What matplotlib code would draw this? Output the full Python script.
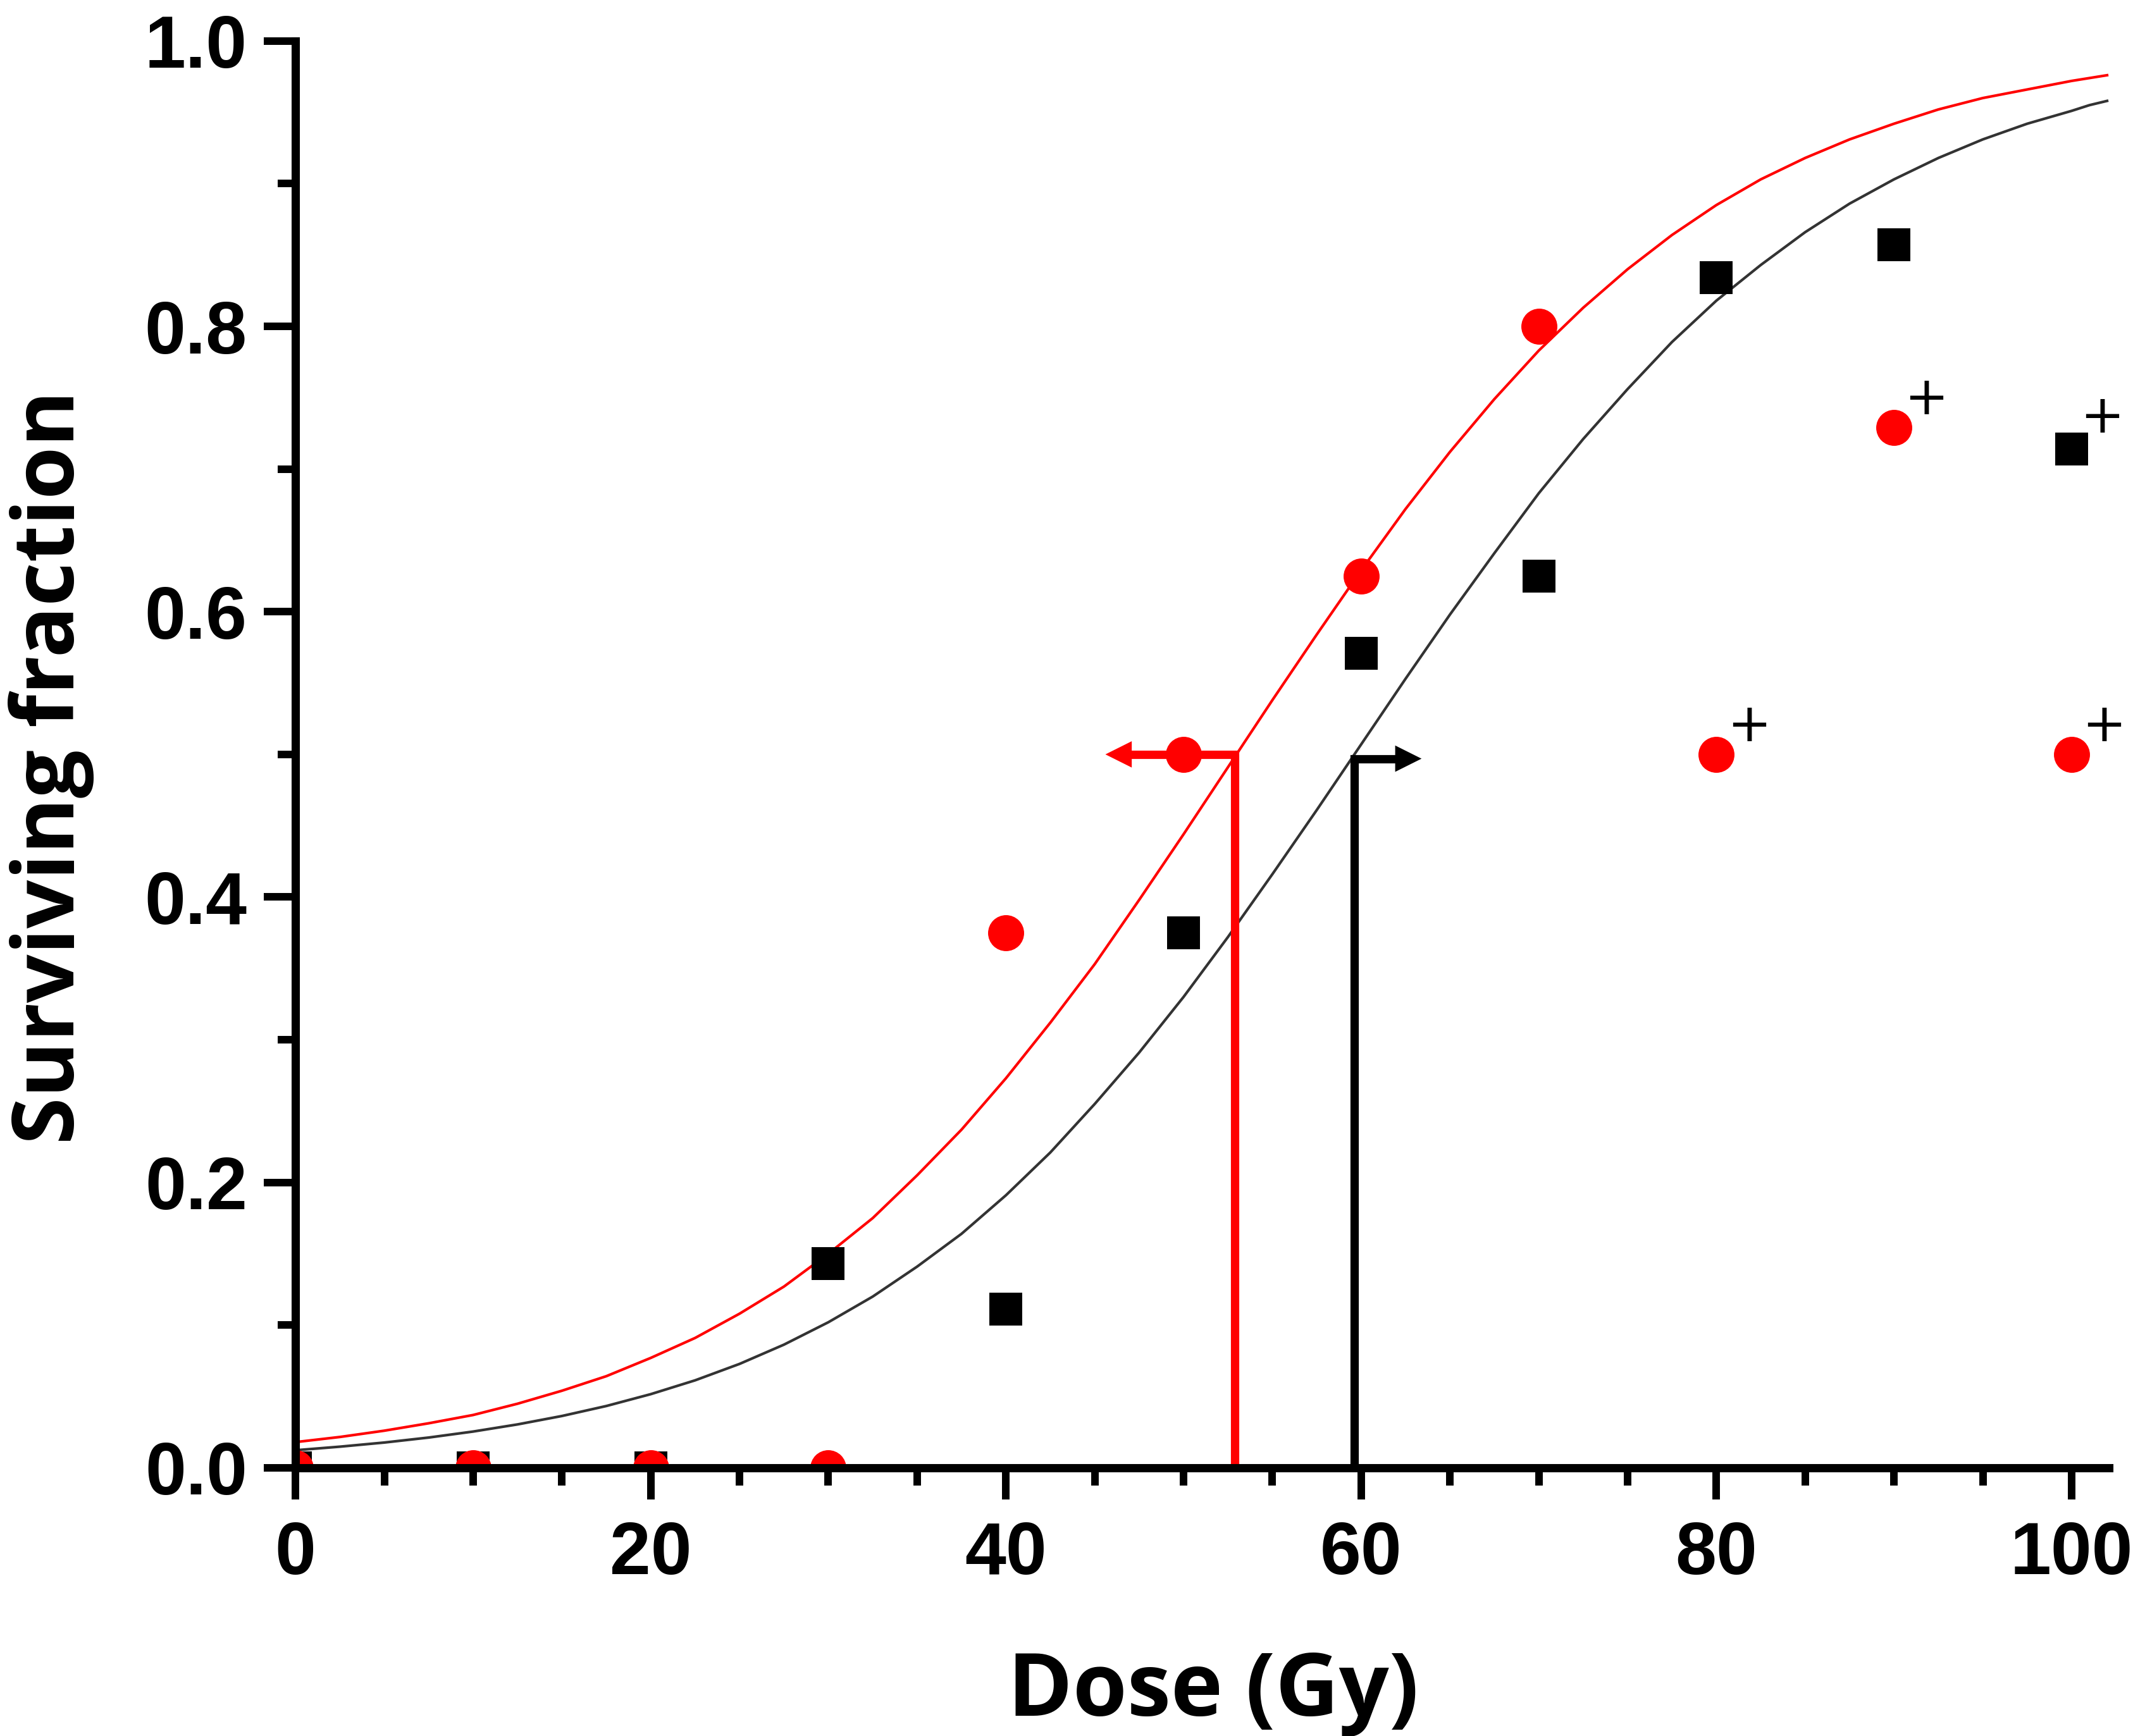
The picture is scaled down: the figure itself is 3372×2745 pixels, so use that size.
import numpy as np
import matplotlib
matplotlib.use("Agg")
import matplotlib.pyplot as plt
from matplotlib.ticker import MultipleLocator

# measured surviving fractions
dose = [0, 10, 20, 30, 40, 50, 60, 70, 80, 90, 100]
black_sf = [0, 0, 0, 0.143, 0.111, 0.375, 0.571, 0.625, 0.834, 0.857, 0.714]
red_sf = [0, 0, 0, 0, 0.375, 0.5, 0.625, 0.800, 0.5, 0.729, 0.5]

# points flagged with "+"
red_plus = [80, 90, 100]
black_plus = [100]

# fitted curves
fit_dose = [0, 2.5, 5, 7.5, 10, 12.5, 15, 17.5, 20, 22.5, 25, 27.5, 30, 32.5, 35, 37.5,
            40, 42.5, 45, 47.5, 50, 52.5, 55, 57.5, 60, 62.5, 65, 67.5, 70, 72.5, 75, 77.5,
            80, 82.5, 85, 87.5, 90, 92.5, 95, 97.5, 100, 101, 102]
red_fit = [0.018, 0.0216, 0.026, 0.0312, 0.037, 0.0449, 0.054, 0.0642, 0.077, 0.091, 0.108,
           0.127, 0.150, 0.175, 0.205, 0.237, 0.273, 0.312, 0.353, 0.398, 0.444, 0.491,
           0.538, 0.584, 0.629, 0.672, 0.712, 0.749, 0.783, 0.813, 0.840, 0.864, 0.885,
           0.903, 0.918, 0.931, 0.942, 0.952, 0.960, 0.966, 0.972, 0.974, 0.976]
black_fit = [0.0123, 0.0148, 0.0177, 0.0212, 0.0254, 0.0304, 0.0363, 0.0433, 0.0516, 0.0613,
             0.0728, 0.0863, 0.102, 0.120, 0.141, 0.164, 0.191, 0.221, 0.255, 0.291, 0.330,
             0.372, 0.416, 0.461, 0.507, 0.553, 0.598, 0.641, 0.683, 0.721, 0.756, 0.789,
             0.818, 0.843, 0.866, 0.886, 0.903, 0.918, 0.931, 0.942, 0.951, 0.955, 0.958]

# D50 markers
red_d50, red_tip = 52.9, 45.6
black_d50, black_tip = 59.6, 63.4
half = 0.5

fig = plt.figure(figsize=(33.73, 27.45), dpi=100)
ax = fig.add_axes([0.1385, 0.1545, 0.8499, 0.8219])

ax.plot(fit_dose, red_fit, color="#ff0000", lw=3.0, zorder=2)
ax.plot(fit_dose, black_fit, color="#333333", lw=3.0, zorder=2)

head = 1.1
ax.plot([red_d50, red_d50, red_tip + head], [0, half, half], color="#ff0000", lw=9.5,
        solid_joinstyle="miter", solid_capstyle="butt", zorder=3)
ax.plot([black_d50, black_d50, black_tip - head], [0, half - 0.003, half - 0.003], color="black", lw=9.5,
        solid_joinstyle="miter", solid_capstyle="butt", zorder=3)
ax.annotate("", xy=(red_tip, half), xytext=(red_d50, half),
            arrowprops=dict(arrowstyle="-|>", color="#ff0000", lw=0, mutation_scale=75,
                            shrinkA=0, shrinkB=0), zorder=3)
ax.annotate("", xy=(black_tip, half - 0.003), xytext=(black_d50, half - 0.003),
            arrowprops=dict(arrowstyle="-|>", color="black", lw=0, mutation_scale=75,
                            shrinkA=0, shrinkB=0), zorder=3)

ax.plot(dose, black_sf, ls="none", marker="s", ms=37, mew=0, color="black", zorder=4)
ax.plot(dose, red_sf, ls="none", marker="o", ms=41, mew=0, color="#ff0000", zorder=5)

for d, s in zip(dose, red_sf):
    if d in red_plus:
        ax.annotate("+", xy=(d, s), xytext=(37, 38), textcoords="offset points",
                    ha="center", va="center_baseline", fontsize=60, family="DejaVu Sans")
for d, s in zip(dose, black_sf):
    if d in black_plus:
        ax.annotate("+", xy=(d, s), xytext=(35, 42), textcoords="offset points",
                    ha="center", va="center_baseline", fontsize=60, family="DejaVu Sans")

ax.set_xlim(0, 102.1)
ax.set_ylim(0, 1.0)
ax.xaxis.set_major_locator(MultipleLocator(20))
ax.xaxis.set_minor_locator(MultipleLocator(5))
ax.yaxis.set_major_locator(MultipleLocator(0.2))
ax.yaxis.set_minor_locator(MultipleLocator(0.1))
ax.yaxis.set_major_formatter(matplotlib.ticker.FormatStrFormatter("%.1f"))

for side in ("top", "right"):
    ax.spines[side].set_visible(False)
for side in ("left", "bottom"):
    ax.spines[side].set_linewidth(9.4)
    ax.spines[side].set_zorder(6)

ax.tick_params(which="major", length=36, width=8.6)
ax.tick_params(which="minor", length=20, width=8.6)
ax.tick_params(axis="x", which="major", pad=24)
ax.tick_params(axis="y", which="major", pad=19)
for lab in ax.get_xticklabels() + ax.get_yticklabels():
    lab.set_fontfamily("Liberation Sans")
    lab.set_fontweight("bold")
    lab.set_fontsize(84)

ax.set_xlabel("Dose (Gy)", fontsize=100, fontweight="bold", family="Open Sans", va="baseline")
ax.xaxis.set_label_coords(0.506, -0.1738)
ax.set_ylabel("Surviving fraction", fontsize=97, fontweight="bold", family="Open Sans", va="baseline")
ax.yaxis.set_label_coords(-0.1221, 0.491)

plt.savefig("out.png", dpi=100, facecolor="white")
